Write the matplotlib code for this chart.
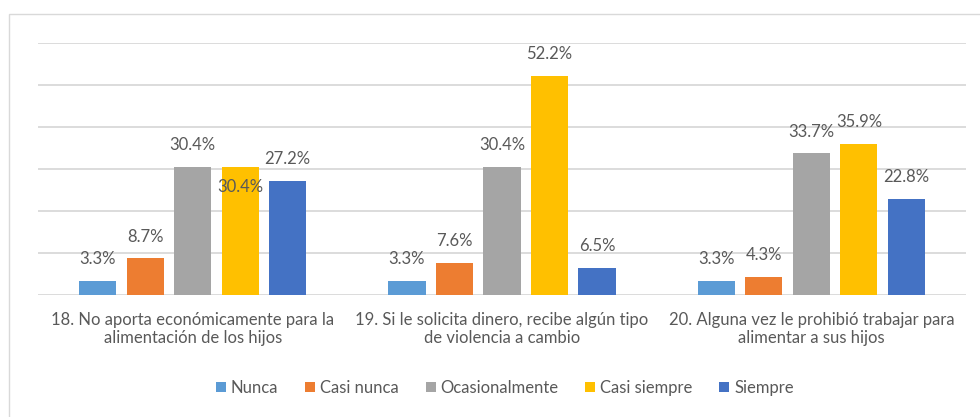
import numpy as np
import matplotlib
matplotlib.use("Agg")
import matplotlib.pyplot as plt
from matplotlib.patches import Rectangle, Patch

categories = [
    "18. No aporta económicamente para la\nalimentación de los hijos",
    "19. Si le solicita dinero, recibe algún tipo\nde violencia a cambio",
    "20. Alguna vez le prohibió trabajar para\nalimentar a sus hijos",
]
series = ["Nunca", "Casi nunca", "Ocasionalmente", "Casi siempre", "Siempre"]
nunca = [3.3, 3.3, 3.3]
casi_nunca = [8.7, 7.6, 4.3]
ocasionalmente = [30.4, 30.4, 33.7]
casi_siempre = [30.4, 52.2, 35.9]
siempre = [27.2, 6.5, 22.8]
values = [nunca, casi_nunca, ocasionalmente, casi_siempre, siempre]

colors = ["#5B9BD5", "#ED7D31", "#A5A5A5", "#FFC000", "#4472C4"]
TXT = "#595959"
GRID = "#d9d9d9"
FS = 12

plt.rcParams["font.family"] = ["Lato", "DejaVu Sans"]

W, H = 980, 417
fig = plt.figure(figsize=(W / 100, H / 100), dpi=100)
ax = fig.add_axes([38 / W, 1 - 295 / H, (966 - 38) / W, (295 - 43) / H])

x = np.arange(len(categories))
step, width = 0.1536, 0.12
# label drawn inside the bar top for one bar, as in the source chart
nudge = {(0, 3): -14.4}

for j, (name, vals, col) in enumerate(zip(series, values, colors)):
    pos = x + (j - 2) * step
    ax.bar(pos, vals, width=width, color=col, zorder=3)
    for i, (p, v) in enumerate(zip(pos, vals)):
        ax.annotate(f"{v:.1f}%", (p, v), xytext=(0, nudge.get((i, j), 15.8)),
                    textcoords="offset points", ha="center", va="center",
                    fontsize=FS, color=TXT, zorder=4)

ax.set_xlim(-0.5, 2.5)
ax.set_ylim(0, 60)
ax.set_yticks(np.arange(0, 61, 10))
ax.yaxis.grid(True, color=GRID, linewidth=1.3, zorder=0)
ax.tick_params(axis="y", left=False, labelleft=False)
ax.set_xticks(x)
ax.set_xticklabels(categories, fontsize=FS, color=TXT, linespacing=1.2)
ax.tick_params(axis="x", length=0, pad=12)
for s in ax.spines.values():
    s.set_visible(False)

handles = [Patch(facecolor=c, edgecolor="none", label=n) for n, c in zip(series, colors)]
fig.legend(handles=handles, loc="center", bbox_to_anchor=(505 / W, 1 - 388 / H),
           ncol=5, frameon=False, fontsize=FS, labelcolor=TXT,
           handlelength=0.6, handleheight=0.6, handletextpad=0.3,
           columnspacing=1.6, borderaxespad=0)

fig.patches.append(Rectangle((9 / W, -0.1), 1.2, 1 - 14 / H + 0.1,
                             transform=fig.transFigure, fill=False,
                             edgecolor=GRID, linewidth=1.0))

fig.savefig("out.png", dpi=100, facecolor="white")
